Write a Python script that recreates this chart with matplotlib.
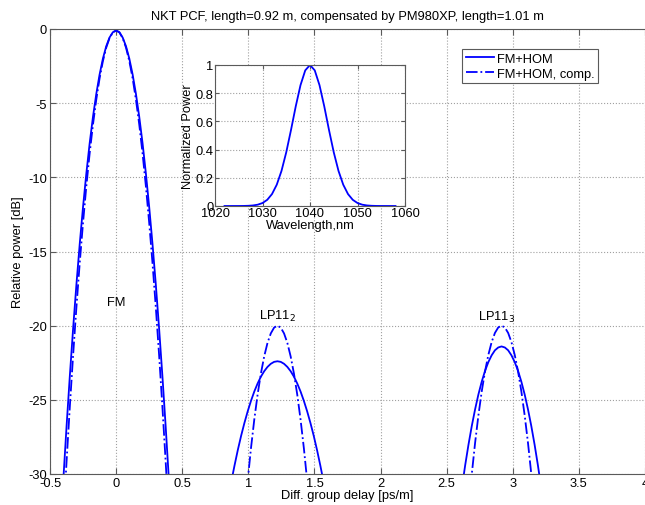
import numpy as np
import matplotlib
matplotlib.use("Agg")
import matplotlib.pyplot as plt
from matplotlib.ticker import FormatStrFormatter

plt.rcParams['font.family'] = ['Liberation Sans', 'DejaVu Sans']
plt.rcParams['axes.unicode_minus'] = False
plt.rcParams['font.size'] = 9.3

# ---- data ----
# fundamental mode (FM), delay in ps/m, power in dB
fm_x = [-0.400, -0.375, -0.350, -0.325, -0.300, -0.275, -0.250, -0.225, -0.200,
        -0.175, -0.150, -0.125, -0.100, -0.075, -0.050, -0.025, 0.000,
        0.025, 0.050, 0.075, 0.100, 0.125, 0.150, 0.175, 0.200,
        0.225, 0.250, 0.275, 0.300, 0.325, 0.350, 0.375, 0.400]
fm_hom = [-30.5, -26.82, -23.38, -20.17, -17.2, -14.47, -11.98, -9.72, -7.7,
          -5.92, -4.38, -3.07, -2.0, -1.17, -0.58, -0.22, -0.1,
          -0.22, -0.58, -1.17, -2.0, -3.07, -4.38, -5.92, -7.7,
          -9.72, -11.98, -14.47, -17.2, -20.17, -23.38, -26.82, -30.5]
fm_comp = [-33.2, -29.2, -25.46, -21.96, -18.73, -15.75, -13.04, -10.58, -8.38,
           -6.44, -4.76, -3.33, -2.17, -1.26, -0.62, -0.23, -0.1,
           -0.23, -0.62, -1.26, -2.17, -3.33, -4.76, -6.44, -8.38,
           -10.58, -13.04, -15.75, -18.73, -21.96, -25.46, -29.2, -33.2]

# LP11 2nd group
lp2_x = [0.870, 0.895, 0.920, 0.945, 0.970, 0.995, 1.020, 1.045, 1.070, 1.095,
         1.120, 1.145, 1.170, 1.195, 1.220, 1.245, 1.270, 1.295, 1.320, 1.345,
         1.370, 1.395, 1.420, 1.445, 1.470, 1.495, 1.520, 1.545, 1.570]
lp2_hom = [-30.57, -29.45, -28.4, -27.44, -26.57, -25.78, -25.07, -24.44, -23.9, -23.44,
           -23.07, -22.78, -22.57, -22.44, -22.4, -22.44, -22.57, -22.78, -23.07, -23.44,
           -23.9, -24.44, -25.07, -25.78, -26.57, -27.44, -28.4, -29.45, -30.57]
lp2_comp = [-45.31, -41.82, -38.59, -35.62, -32.91, -30.46, -28.26, -26.33, -24.65, -23.23,
            -22.07, -21.16, -20.52, -20.13, -20.0, -20.13, -20.52, -21.16, -22.07, -23.23,
            -24.65, -26.33, -28.26, -30.46, -32.91, -35.62, -38.59, -41.82, -45.31]

# LP11 3rd group
lp3_x = [2.615, 2.640, 2.665, 2.690, 2.715, 2.740, 2.765, 2.790, 2.815, 2.840,
         2.865, 2.890, 2.915, 2.940, 2.965, 2.990, 3.015, 3.040, 3.065, 3.090,
         3.115, 3.140, 3.165, 3.190, 3.215]
lp3_hom = [-30.93, -29.41, -28.02, -26.76, -25.64, -24.64, -23.78, -23.05, -22.46, -22.0,
           -21.66, -21.47, -21.4, -21.47, -21.66, -22.0, -22.46, -23.05, -23.78, -24.64,
           -25.64, -26.76, -28.02, -29.41, -30.93]
lp3_comp = [-37.78, -34.94, -32.34, -30.0, -27.9, -26.05, -24.44, -23.09, -21.98, -21.11,
            -20.49, -20.12, -20.0, -20.12, -20.49, -21.11, -21.98, -23.09, -24.44, -26.05,
            -27.9, -30.0, -32.34, -34.94, -37.78]

# inset spectrum
wl = [1022, 1023, 1024, 1025, 1026, 1027, 1028, 1029, 1030, 1031, 1032, 1033, 1034,
      1035, 1036, 1037, 1038, 1039, 1040, 1041, 1042, 1043, 1044, 1045, 1046, 1047,
      1048, 1049, 1050, 1051, 1052, 1053, 1054, 1055, 1056, 1057, 1058]
spec = [0.0, 0.0, 0.0001, 0.0002, 0.0005, 0.0015, 0.0039, 0.0094, 0.0211, 0.0439,
        0.0847, 0.151, 0.249, 0.381, 0.539, 0.707, 0.857, 0.962, 1.0, 0.962, 0.857,
        0.707, 0.539, 0.381, 0.249, 0.151, 0.0847, 0.0439, 0.0211, 0.0094, 0.0039,
        0.0015, 0.0005, 0.0002, 0.0001, 0.0, 0.0]

peak_labels = [("FM", 0.0, -18.4), ("LP11$_2$", 1.22, -19.3), ("LP11$_3$", 2.88, -19.4)]

blue = (0, 0, 1)
spine_col = '#5a5a5a'

fig = plt.figure(figsize=(6.45, 5.06), dpi=100)
ax = fig.add_axes([50/645, 31/506, 1 - 50/645, 445/506])

ax.plot(fm_x, fm_hom, '-', color=blue, lw=1.3, label='FM+HOM')
ax.plot(fm_x, fm_comp, '-.', color=blue, lw=1.3, label='FM+HOM, comp.')
ax.plot(lp2_x, lp2_hom, '-', color=blue, lw=1.3)
ax.plot(lp2_x, lp2_comp, '-.', color=blue, lw=1.3)
ax.plot(lp3_x, lp3_hom, '-', color=blue, lw=1.3)
ax.plot(lp3_x, lp3_comp, '-.', color=blue, lw=1.3)

for txt, xx, yy in peak_labels:
    ax.text(xx, yy, txt, ha='center', va='center')

ax.set_xlim(-0.5, 4.0)
ax.set_ylim(-30, 0)
ax.set_xticks(np.arange(-0.5, 4.01, 0.5))
ax.set_yticks(np.arange(-30, 0.1, 5))
ax.xaxis.set_major_formatter(FormatStrFormatter('%g'))
ax.yaxis.set_major_formatter(FormatStrFormatter('%g'))
ax.grid(True, ls=':', color='#a0a0a0', lw=0.8)
ax.tick_params(direction='in', top=True, right=False, length=4, color=spine_col, pad=2)
for s in ax.spines.values():
    s.set_color(spine_col)
ax.spines['right'].set_visible(False)
ax.set_xlabel('Diff. group delay [ps/m]', labelpad=0)
ax.set_ylabel('Relative power [dB]', labelpad=3)
ax.set_title('NKT PCF, length=0.92 m, compensated by PM980XP, length=1.01 m',
             fontsize=9.3, pad=7)

leg = ax.legend(loc='upper left', bbox_to_anchor=(462/645, 1 - 50/506),
                bbox_transform=fig.transFigure, fancybox=False, framealpha=1,
                edgecolor=spine_col, handlelength=2.2, borderpad=0.3,
                labelspacing=0.2, handletextpad=0.2, borderaxespad=0)
leg.get_frame().set_linewidth(0.8)

# inset
axi = fig.add_axes([215/645, (506-207)/506, 190/645, 141/506])
axi.plot(wl, spec, '-', color=blue, lw=1.3)
axi.set_xlim(1020, 1060)
axi.set_ylim(0, 1)
axi.set_xticks([1020, 1030, 1040, 1050, 1060])
axi.set_yticks([0, 0.2, 0.4, 0.6, 0.8, 1])
axi.yaxis.set_major_formatter(FormatStrFormatter('%g'))
axi.grid(True, ls=':', color='#a0a0a0', lw=0.8)
axi.tick_params(direction='in', top=True, right=True, length=3, color=spine_col, pad=1)
for s in axi.spines.values():
    s.set_color(spine_col)
axi.set_xlabel('Wavelength,nm', labelpad=0)
axi.set_ylabel('Normalized Power', labelpad=1)

fig.savefig('out.png', dpi=100)
